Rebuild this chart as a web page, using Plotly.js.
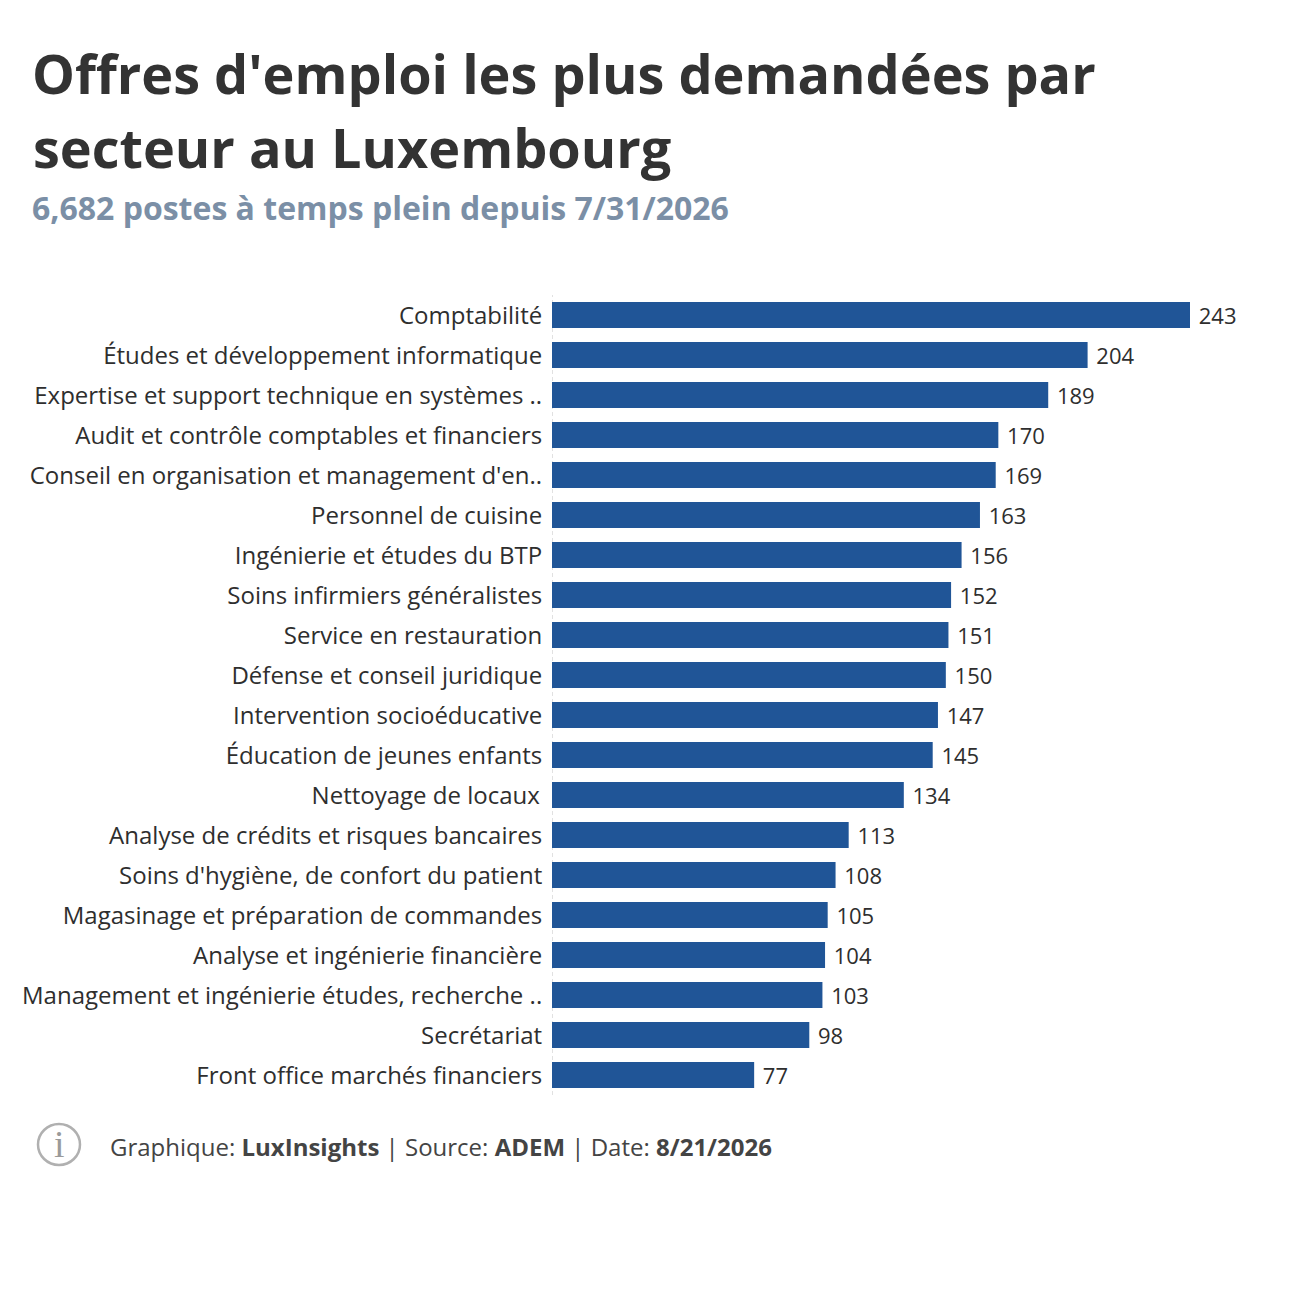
<!DOCTYPE html>
<html>
<head>
<meta charset="utf-8">
<script src="https://cdn.plot.ly/plotly-3.0.1.min.js"></script>
<style>html,body{margin:0;padding:0;background:#fff}</style>
</head>
<body>
<div id="chart" style="width:1300px;height:1300px"></div>
<script>
const categories = [
  "Comptabilité",
  "Études et développement informatique",
  "Expertise et support technique en systèmes ..",
  "Audit et contrôle comptables et financiers",
  "Conseil en organisation et management d'en..",
  "Personnel de cuisine",
  "Ingénierie et études du BTP",
  "Soins infirmiers généralistes",
  "Service en restauration",
  "Défense et conseil juridique",
  "Intervention socioéducative",
  "Éducation de jeunes enfants",
  "Nettoyage de locaux\u200a",
  "Analyse de crédits et risques bancaires",
  "Soins d'hygiène, de confort du patient",
  "Magasinage et préparation de commandes",
  "Analyse et ingénierie financière",
  "Management et ingénierie études, recherche ..",
  "Secrétariat",
  "Front office marchés financiers"
];
const values = [243,204,189,170,169,163,156,152,151,150,147,145,134,113,108,105,104,103,98,77];
const titleLine1 = "Offres d'emploi les plus demandées par";
const titleLine2 = "secteur au Luxembourg";
const subtitleText = "6,682 postes à temps plein depuis 7/31/2026";
const footerText = "Graphique: <b>LuxInsights</b> | Source: <b>ADEM</b> | Date: <b>8/21/2026</b>";

const W = 1300, H = 1300;
const M = {l:552, r:50, t:295, b:205};
const pw = W - M.l - M.r, ph = H - M.t - M.b;
const px = x => (x - M.l) / pw;
const py = y => 1 - (y - M.t) / ph;
const FONT = '"Open Sans", sans-serif';
const INK = '#2e2e2e';

const data = [{
  type: 'bar',
  orientation: 'h',
  y: categories,
  x: values,
  texttemplate: '\u00a0%{x}',
  textposition: 'outside',
  constraintext: 'none',
  cliponaxis: false,
  textfont: {family: FONT, size: 22, color: INK},
  marker: {color: '#205597'},
  hoverinfo: 'x+y'
}];

const layout = {
  width: W, height: H,
  margin: {l:M.l, r:M.r, t:M.t, b:M.b, pad:0},
  paper_bgcolor: '#ffffff',
  plot_bgcolor: '#ffffff',
  font: {family: FONT, color: '#333333'},
  showlegend: false,
  bargap: 0.35,
  title: {
    text: titleLine1,
    font: {family: FONT, size: 54, weight: 700, color: '#333333'},
    x: 32/W, xanchor: 'left', xref: 'container',
    y: 1 - 93.6/H, yanchor: 'bottom', yref: 'container'
  },
  xaxis: {
    range: [0, pw / (638/243)],
    showticklabels: false,
    showgrid: false,
    zeroline: false, showline: false, ticks: ''
  },
  yaxis: {
    autorange: false,
    range: [19.5, -0.5],
    type: 'category',
    categoryorder: 'array', categoryarray: categories,
    tickfont: {family: FONT, size: 24, color: INK},
    ticks: 'outside', ticklen: 4, tickcolor: 'rgba(0,0,0,0)', tickwidth: 1,
    ticklabelshift: -1,
    showline: false, showgrid: false, zeroline: false, automargin: false
  },
  annotations: [
    {text: titleLine2, xref:'paper', yref:'paper', x:px(31), y:py(146.5), xanchor:'left', yanchor:'middle',
     showarrow:false, font:{family:FONT, size:54, weight:700, color:'#333333'}},
    {text: subtitleText, xref:'paper', yref:'paper', x:px(30), y:py(207.4), xanchor:'left', yanchor:'middle',
     showarrow:false, font:{family:FONT, size:32, weight:700, color:'#7b8fa6'}},
    {text: footerText, xref:'paper', yref:'paper', x:px(108), y:py(1146), xanchor:'left', yanchor:'middle',
     showarrow:false, font:{family:FONT, size:24, color:'#444444'}},
    {text: 'i', xref:'paper', yref:'paper', x:px(59), y:py(1144), xanchor:'center', yanchor:'middle',
     showarrow:false, font:{family:'"Liberation Serif", serif', size:38, color:'#9a9a9a'}}
  ],
  shapes: [
    {type:'line', layer:'below', xref:'x', yref:'paper', x0:0, x1:0, y0:0, y1:1,
     line:{color:'#c4c4c4', width:1, dash:'4px,3px'}},
    {type:'circle', xref:'paper', yref:'paper', x0:px(38), x1:px(80), y0:py(1165), y1:py(1124),
     line:{color:'#b0b0b0', width:2.5}, fillcolor:'rgba(0,0,0,0)'}
  ]
};

Plotly.newPlot('chart', data, layout, {displayModeBar:false, responsive:false});
</script>
</body>
</html>
